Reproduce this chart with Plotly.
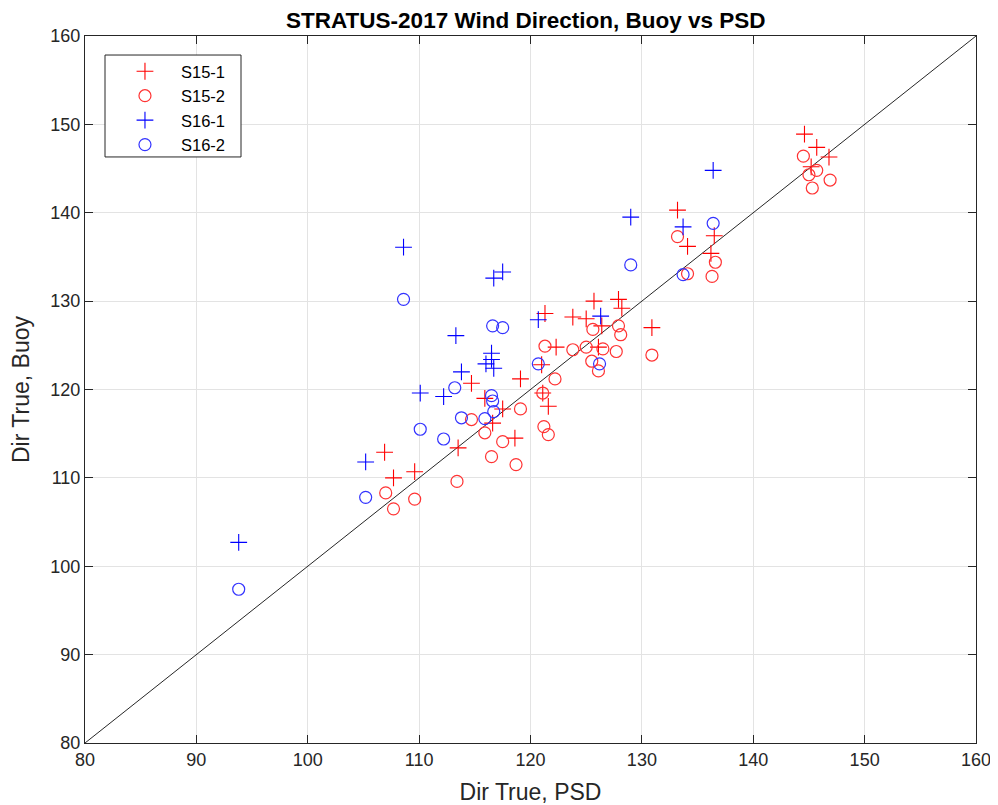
import plotly.graph_objects as go

# S15-1 (red +)
s151_x = [144.6, 145.7, 146.8, 145.2, 133.2, 136.5, 134.1, 136.2, 125.7, 127.9, 128.2, 121.3,
          123.8, 125.0, 126.4, 130.9, 122.3, 126.1, 121.0, 119.1, 114.7, 115.9, 121.1, 117.5,
          121.6, 116.6, 118.6, 113.5, 106.9, 109.6, 107.7]
s151_y = [148.9, 147.4, 146.3, 145.2, 140.3, 137.4, 136.2, 135.4, 130.0, 130.2, 129.2, 128.6,
          128.2, 128.0, 127.2, 127.0, 124.8, 124.8, 122.8, 121.2, 120.7, 119.0, 119.6, 117.8,
          118.1, 116.2, 114.5, 113.4, 112.9, 110.7, 110.0]

# S15-2 (red o)
s152_x = [144.5, 145.7, 145.0, 146.9, 145.3, 133.2, 136.6, 134.1, 136.3, 125.6, 127.9, 128.1,
          123.8, 125.0, 126.5, 127.7, 125.5, 126.1, 130.9, 122.2, 121.3, 121.1, 114.7, 115.9,
          117.5, 119.1, 121.2, 121.6, 116.5, 118.7, 113.4, 107.0, 109.6, 107.7]
s152_y = [146.4, 144.8, 144.3, 143.7, 142.8, 137.3, 134.4, 133.1, 132.8, 126.8, 127.2, 126.2,
          124.5, 124.8, 124.6, 124.3, 123.2, 122.1, 123.9, 121.2, 124.9, 119.6, 116.6, 115.1,
          114.1, 117.8, 115.8, 114.9, 112.4, 111.5, 109.6, 108.3, 107.6, 106.5]

# S16-1 (blue +)
s161_x = [136.4, 129.0, 133.7, 126.3, 120.7, 108.6, 116.7, 117.5, 113.3, 116.5, 116.5, 116.0,
          116.7, 113.8, 110.1, 112.2, 105.2, 93.8]
s161_y = [144.8, 139.5, 138.4, 128.3, 127.9, 136.1, 132.6, 133.3, 126.1, 124.1, 123.4, 122.9,
          122.4, 122.0, 119.6, 119.2, 111.8, 102.7]

# S16-2 (blue o)
s162_x = [136.4, 129.0, 133.7, 126.2, 120.7, 108.6, 116.6, 117.5, 113.2, 116.5, 116.6, 116.7,
          113.8, 115.9, 110.1, 112.2, 105.2, 93.8]
s162_y = [138.8, 134.1, 133.0, 122.9, 122.9, 130.2, 127.2, 127.0, 120.2, 119.3, 118.7, 117.5,
          116.8, 116.7, 115.5, 114.4, 107.8, 97.4]

line_x = [80, 160]
line_y = [80, 160]

ticks = [80, 90, 100, 110, 120, 130, 140, 150, 160]

RED = "#ff0000"
BLUE = "#0000ff"

fig = go.Figure()
fig.add_trace(go.Scatter(x=line_x, y=line_y, mode="lines", line=dict(color="#262626", width=1),
                         showlegend=False, hoverinfo="skip"))
fig.add_trace(go.Scatter(x=s151_x, y=s151_y, mode="markers", name="S15-1",
                         marker=dict(symbol="cross-thin-open", size=12, color=RED,
                                     line=dict(color=RED, width=1.1))))
fig.add_trace(go.Scatter(x=s152_x, y=s152_y, mode="markers", name="S15-2",
                         marker=dict(symbol="circle-open", size=12, color="#ff3333",
                                     line=dict(color="#ff3333", width=1.2))))
fig.add_trace(go.Scatter(x=s161_x, y=s161_y, mode="markers", name="S16-1",
                         marker=dict(symbol="cross-thin-open", size=12, color=BLUE,
                                     line=dict(color=BLUE, width=1.1))))
fig.add_trace(go.Scatter(x=s162_x, y=s162_y, mode="markers", name="S16-2",
                         marker=dict(symbol="circle-open", size=12, color="#3333ff",
                                     line=dict(color="#3333ff", width=1.2))))

axis_common = dict(range=[80, 160], tickvals=ticks, ticktext=[str(t) for t in ticks],
                   showgrid=True, gridcolor="#e3e3e3", gridwidth=1, zeroline=False,
                   showline=True, linecolor="#262626", linewidth=1, mirror="ticks",
                   ticks="inside", ticklen=8, tickcolor="#262626",
                   ticklabeloverflow="allow", automargin=False,
                   tickfont=dict(size=18, color="#262626"))

fig.update_layout(
    width=990, height=797,
    margin=dict(l=77, r=22, t=28, b=62),
    paper_bgcolor="white", plot_bgcolor="white",
    font=dict(family="Liberation Sans, Arial, sans-serif", color="#262626"),
    title=dict(text="<b>STRATUS-2017 Wind Direction, Buoy vs PSD</b>", x=0.523, xanchor="center",
               y=0.995, yanchor="top", font=dict(size=22.5, color="#000000")),
    xaxis=dict(title=dict(text="Dir True, PSD", font=dict(size=23), standoff=18), **axis_common),
    yaxis=dict(title=dict(text="Dir True, Buoy", font=dict(size=23), standoff=18), **axis_common),
    legend=dict(x=0.0269, y=0.9745, xanchor="left", yanchor="top", bgcolor="rgba(0,0,0,0)",
                borderwidth=0, font=dict(size=16.5, color="#000000"),
                itemwidth=62, tracegroupgap=0),
    shapes=[dict(type="rect", xref="paper", yref="paper", x0=0.02245, x1=0.1751,
                 y0=0.8289, y1=0.9731, fillcolor="white",
                 line=dict(color="#262626", width=1), layer="above")],
    showlegend=True,
)

fig.write_html("out.html")
